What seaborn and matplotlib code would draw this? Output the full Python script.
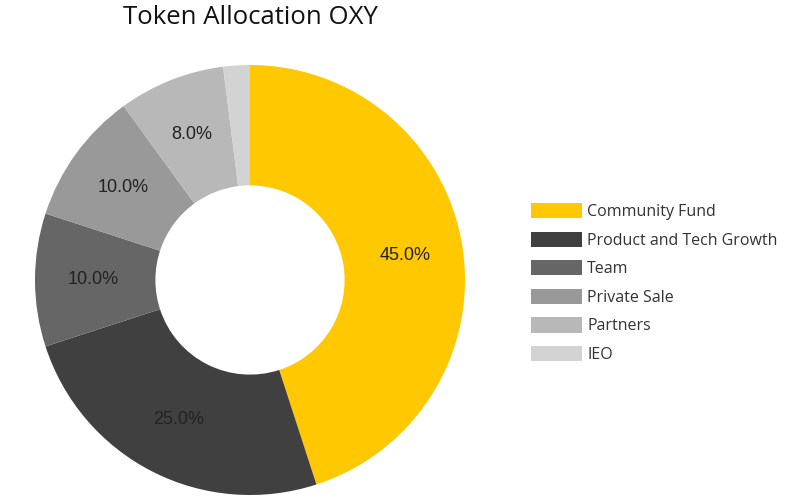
import matplotlib
matplotlib.use("Agg")
import matplotlib.pyplot as plt
import seaborn as sns

sns.set_theme(style="white")
plt.rcParams['font.family'] = ['Liberation Sans', 'DejaVu Sans']

categories = ["Community Fund", "Product and Tech Growth", "Team", "Private Sale", "Partners", "IEO"]
values = [45, 25, 10, 10, 8, 2]
colors = ["#FFC800", "#404040", "#666666", "#999999", "#B8B8B8", "#D3D3D3"]

fig = plt.figure(figsize=(8, 5.01), dpi=100)
ax = fig.add_axes([35/800, 6/501, 430/800, 430/501])
wedges, texts, autotexts = ax.pie(values, colors=colors, startangle=90, counterclock=False,
                                  autopct=lambda p: f"{p:.1f}%" if p > 3 else "",
                                  pctdistance=0.73, wedgeprops=dict(width=0.56, edgecolor="white", linewidth=0),
                                  textprops=dict(fontsize=13, color="#222222"))
ax.set_xlim(-1, 1)
ax.set_ylim(-1, 1)
ax.set_aspect("equal")
fig.text(250/800, 1 - 18/501, "Token Allocation OXY", ha="center", va="center", fontsize=18.5,
         family=["Open Sans", "DejaVu Sans"], color="#111111")
fig.legend(wedges, categories, loc="center left", bbox_to_anchor=(517/800, 1 - 283/501), frameon=False,
           prop=dict(family=["Open Sans", "DejaVu Sans"], size=11.5), handlelength=3.2, handleheight=1.1,
           labelspacing=0.72, handletextpad=0.3, labelcolor="#333333")
fig.savefig("out.png", dpi=100)
